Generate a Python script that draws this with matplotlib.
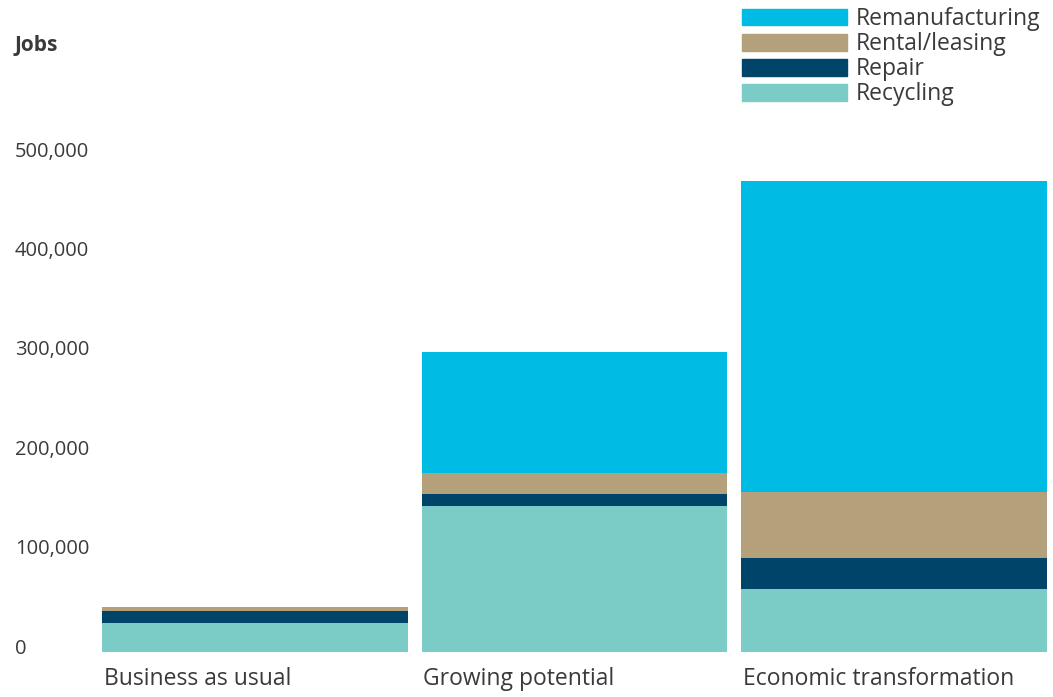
import numpy as np
import matplotlib
matplotlib.use('Agg')
import matplotlib.pyplot as plt
import matplotlib.transforms as mtransforms
from matplotlib.patches import Patch

# dados
cenarios = ['Business as usual', 'Growing potential', 'Economic transformation']
recycling = [29000, 147000, 63000]
repair = [12000, 12000, 32000]
rental = [4000, 21000, 66000]
reman = [500, 122000, 313000]

series = ['Recycling', 'Repair', 'Rental/leasing', 'Remanufacturing']
cores = ['#7BCBC6', '#00446A', '#B5A07C', '#00BCE4']
yticks = [0, 100000, 200000, 300000, 400000, 500000]
ylabels = ['0', '100,000', '200,000', '300,000', '400,000', '500,000']

plt.rcParams['font.family'] = ['Open Sans', 'DejaVu Sans']
texto = '#3a3a3a'

W, H = 1053, 697
fig = plt.figure(figsize=(W / 100, H / 100), dpi=100)
ax = fig.add_axes([102 / W, (H - 652) / H, 945 / W, 497 / H])

x = np.arange(len(cenarios))
w = 306 / 320
base = np.zeros(len(cenarios))
for vals, cor, nome in zip([recycling, repair, rental, reman], cores, series):
    ax.bar(x, vals, width=w, bottom=base, color=cor, label=nome, linewidth=0)
    base = base + np.array(vals)

ax.set_xlim(-w / 2, 2 + w / 2)
ax.set_ylim(0, 500000)
for s in ax.spines.values():
    s.set_visible(False)

ax.set_yticks(yticks)
ax.set_yticklabels(ylabels, fontsize=14.5, color=texto)
ax.tick_params(axis='y', length=0, pad=87 * 0.72)
desloc = mtransforms.ScaledTranslation(0, 6 / 100, fig.dpi_scale_trans)
for lb in ax.get_yticklabels():
    lb.set_horizontalalignment('left')
    lb.set_transform(lb.get_transform() + desloc)

ax.set_xticks(x - w / 2 + 0.005)
ax.set_xticklabels(cenarios, fontsize=16.5, color=texto, ha='left')
ax.tick_params(axis='x', length=0, pad=11)

fig.text(15 / W, 1 - 46 / H, 'Jobs', fontsize=15, fontweight='bold', color=texto,
         va='center', ha='left')

handles = [Patch(color=c, label=n) for c, n in zip(cores, series)][::-1]
fig.legend(handles=handles, loc='upper left', bbox_to_anchor=(742 / W, 1 - 7 / H),
           frameon=False, fontsize=16.5, handlelength=4.6, handleheight=0.75,
           labelspacing=0.05, handletextpad=0.38, borderpad=0, borderaxespad=0,
           labelcolor=texto)

fig.savefig('out.png', dpi=100)
